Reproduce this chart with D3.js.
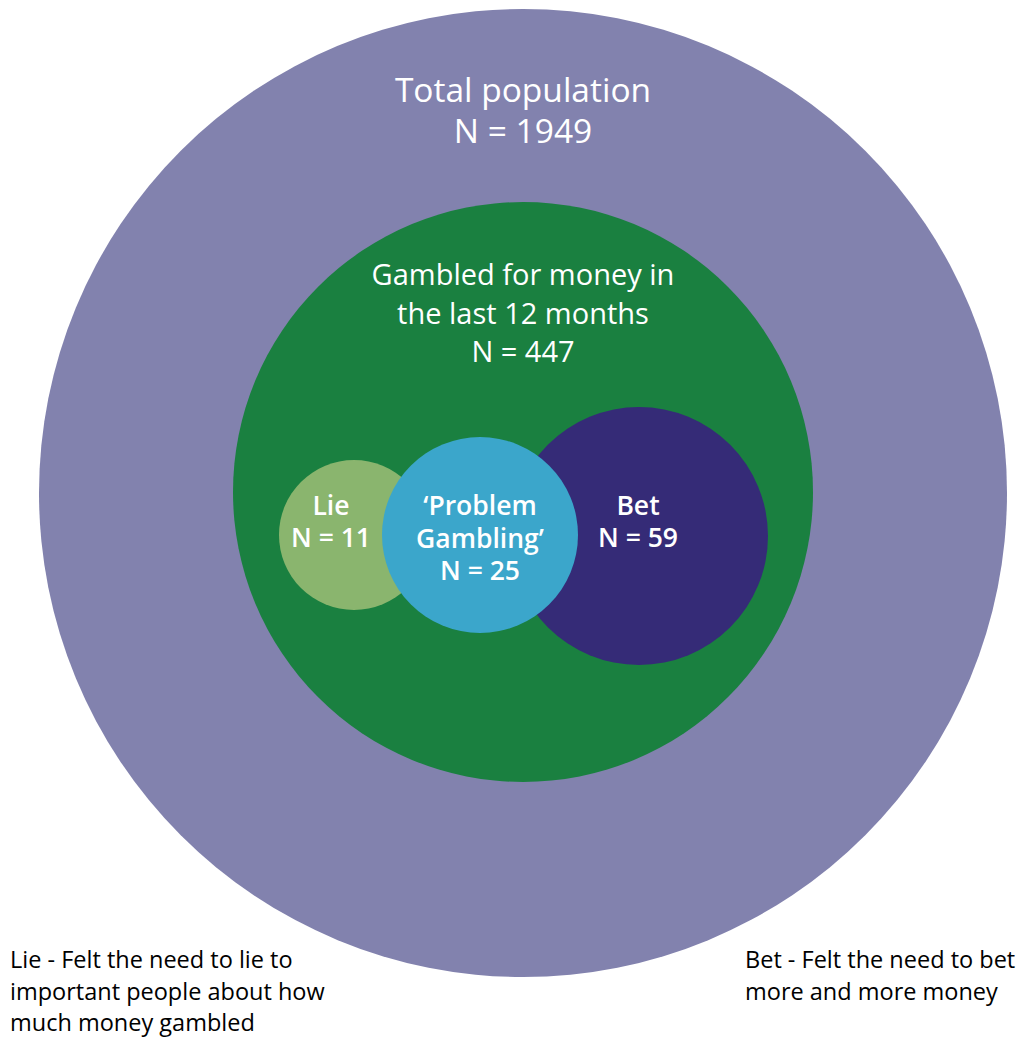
<!DOCTYPE html>
<html><head><meta charset="utf-8">
<script src="https://cdn.jsdelivr.net/npm/d3@7"></script>
<style>body{margin:0;background:#fff}svg{display:block}</style>
</head><body>
<script>
const groups = ["Total population", "Gambled for money in the last 12 months", "Lie", "'Problem Gambling'", "Bet"];
const counts = [1949, 447, 11, 25, 59];
const labelLines = [
  ["Total population"],
  ["Gambled for money in", "the last 12 months"],
  ["Lie"],
  ["\u2018Problem", "Gambling\u2019"],
  ["Bet"]
];
const colors = ["#8282ae", "#1a8040", "#8ab56e", "#3ba6cb", "#352b77"];
const footnotes = [
  ["Lie - Felt the need to lie to", "important people about how", "much money gambled"],
  ["Bet - Felt the need to bet", "more and more money"]
];

const W = 1024, H = 1037;
const svg = d3.select("body").append("svg").attr("width", W).attr("height", H);
const font = "'Open Sans', 'Noto Sans', sans-serif";

// layout (diagram geometry, not data)
const layout = [
  {cx: 523, cy: 493, r: 484, fs: 33.5, fw: 400, lh: 41, ty: 90},
  {cx: 523, cy: 492, r: 290, fs: 29, fw: 400, lh: 38.5, ty: 275},
  {cx: 354, cy: 535, r: 75, fs: 26.5, fw: 600, lh: 32, ty: 506},
  {cx: 480, cy: 535, r: 98, fs: 26.5, fw: 600, lh: 32.5, ty: 506},
  {cx: 639, cy: 536, r: 129, fs: 26.5, fw: 600, lh: 32, ty: 506}
];
const drawOrder = [0, 1, 2, 4, 3];

const nodes = groups.map((g, i) => ({name: g, n: counts[i], color: colors[i], lines: labelLines[i].concat(["N = " + counts[i]]), ...layout[i]}));

svg.selectAll("circle").data(drawOrder.map(i => nodes[i])).join("circle")
  .attr("cx", d => d.cx).attr("cy", d => d.cy).attr("r", d => d.r).attr("fill", d => d.color);

const labels = svg.selectAll("g.lab").data(drawOrder.map(i => nodes[i])).join("g").attr("class", "lab");
labels.each(function(d) {
  const g = d3.select(this);
  const tx = d.name === "Lie" ? 331 : d.name === "Bet" ? 638 : d.cx;
  g.selectAll("text").data(d.lines).join("text")
    .attr("x", tx).attr("y", (l, j) => d.ty + j * d.lh)
    .attr("dy", "0.35em")
    .attr("text-anchor", "middle")
    .attr("fill", "#fff")
    .attr("font-family", font)
    .attr("font-size", d.fs)
    .attr("font-weight", d.fw)
    .text(l => l);
});

const fpos = [{x: 10, y: 960}, {x: 745, y: 960}];
footnotes.forEach((lines, i) => {
  svg.append("g").selectAll("text").data(lines).join("text")
    .attr("x", fpos[i].x).attr("y", (l, j) => fpos[i].y + j * 31.5)
    .attr("dy", "0.35em")
    .attr("fill", "#000")
    .attr("font-family", font)
    .attr("font-size", 23.5)
    .text(l => l);
});
</script>
</body></html>
